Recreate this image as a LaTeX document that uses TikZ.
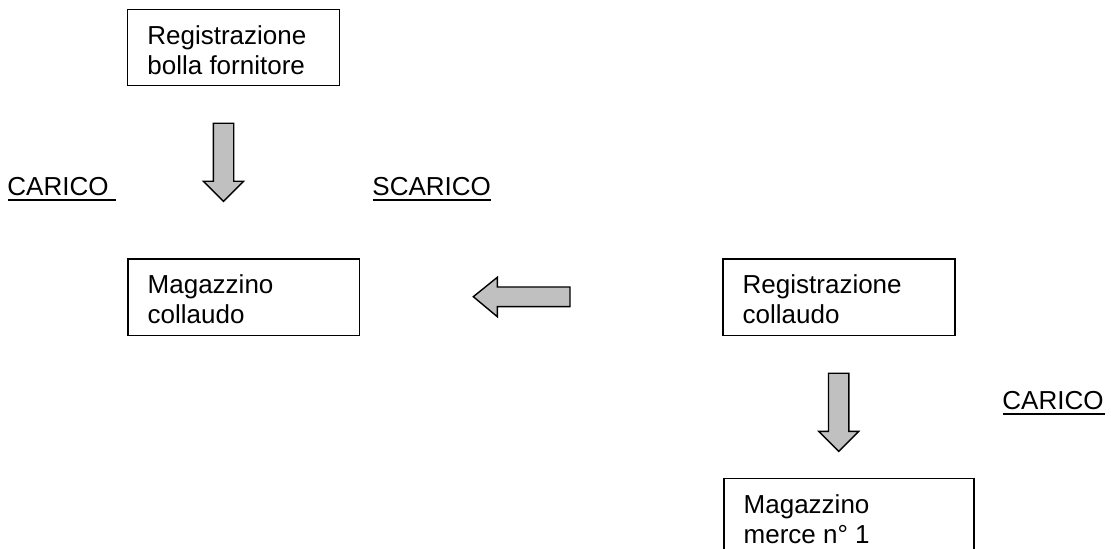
\documentclass[tikz,border=0pt]{standalone}
\usepackage{fontspec}
\setmainfont{Liberation Sans}
\usetikzlibrary{calc}
\definecolor{arrowgray}{HTML}{C0C0C0}
\newcommand\twolines[2]{\begin{tabular}[t]{@{}l@{}}#1\\#2\end{tabular}}
\begin{document}
\begin{tikzpicture}[x=0.5pt,y=-0.5pt,
  box/.style={draw=black, line width=0.7pt, rectangle, inner sep=0pt, anchor=north west},
  txt/.style={inner sep=0pt, anchor=base west, font=\fontsize{13}{15}\selectfont},
  blockarrow/.style={draw=black, line width=0.7pt, fill=arrowgray, line join=miter},
  uline/.style={line width=0.8pt},
  downarrow/.pic={\draw[blockarrow] (-10.2,0) -- (10.2,0) -- (10.2,58) -- (20,58) -- (0,78) -- (-20,58) -- (-10.2,58) -- cycle;},
  leftarrow/.pic={\draw[blockarrow] (0,0) -- (24,-19.4) -- (24,-9.7) -- (96.7,-9.7) -- (96.7,10) -- (24,10) -- (24,20) -- cycle;}]
\useasboundingbox (0,0) rectangle (1111,549);
\clip (0,0) rectangle (1111,549);
\fill[white] (0,0) rectangle (1111,549);

% boxes
\node[box, minimum width=106pt, minimum height=38pt] (b1) at (127,9) {};
\node[box, minimum width=115.7pt, minimum height=38.4pt] (b2) at (127.3,258.3) {};
\node[box, minimum width=116pt, minimum height=38.4pt] (b3) at (722.3,258.3) {};
\node[box, minimum width=125pt, minimum height=50pt] (b4) at (723.3,477.7) {};

% box texts
\node[txt] (t1) at ($(b1.north west)+(20,35.5)$) {\twolines{Registrazione}{bolla fornitore}};
\node[txt] (t2) at ($(b2.north west)+(20,35.5)$) {\twolines{Magazzino}{collaudo}};
\node[txt] (t3) at ($(b3.north west)+(20,35.5)$) {\twolines{Registrazione}{collaudo}};
\node[txt] (t4) at ($(b4.north west)+(20,35.5)$) {\twolines{Magazzino}{merce n° 1}};

% block arrows
\coordinate (a1) at (223.5,123.3);
\coordinate (a2) at (838.7,373.3);
\coordinate (a3) at (473.3,296.7);
\pic at (a1) {downarrow};
\pic at (a2) {downarrow};
\pic at (a3) {leftarrow};

% labels
\node[txt] (c1) at (7,195.5) {CARICO};
\node[txt] (s1) at (372,195.5) {SCARICO};
\node[txt] (c2) at (1002,409.3) {CARICO};
\draw[uline] ($(c1.base west)+(1,4.5)$) -- ($(c1.base east)+(7.5,4.5)$);
\draw[uline] ($(s1.base west)+(1,4.5)$) -- ($(s1.base east)+(0,4.5)$);
\draw[uline] ($(c2.base west)+(1,4.5)$) -- ($(c2.base east)+(1,4.5)$);
\end{tikzpicture}
\end{document}
